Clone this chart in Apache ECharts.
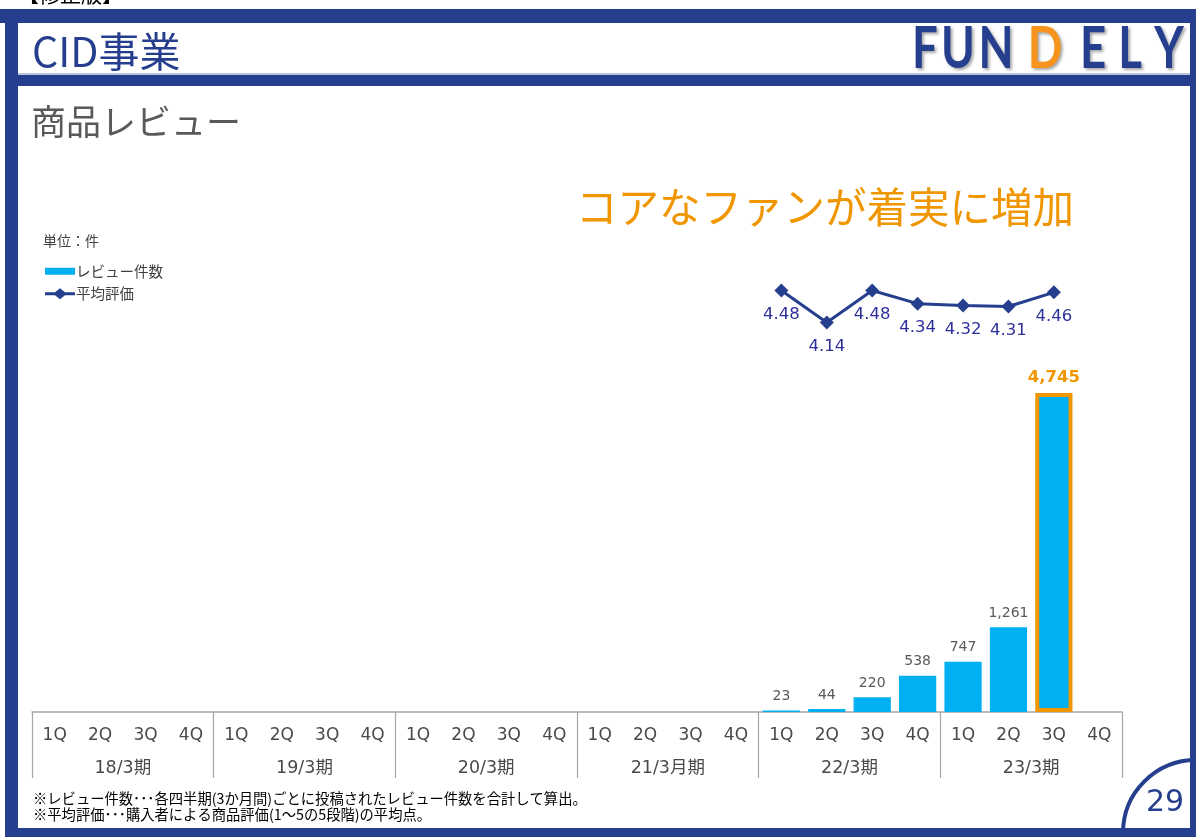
<!DOCTYPE html>
<html>
<head>
<meta charset="utf-8">
<script src="https://cdn.jsdelivr.net/npm/echarts@6/dist/echarts.min.js"></script>
<style>
html,body{margin:0;padding:0;background:#fff;}
#chart{width:1196px;height:837px;}
</style>
</head>
<body>
<div id="chart"></div>
<script>
// ---- data ----
const fiscalYears = ['18/3期', '19/3期', '20/3期', '21/3月期', '22/3期', '23/3期'];
const quarters = ['1Q', '2Q', '3Q', '4Q'];
const reviewCounts = [null, null, null, null, null, null, null, null,
                      null, null, null, null, null, null, null, null,
                      23, 44, 220, 538, 747, 1261, 4745, null];
const avgRatings = [null, null, null, null, null, null, null, null,
                    null, null, null, null, null, null, null, null,
                    4.48, 4.14, 4.48, 4.34, 4.32, 4.31, 4.46, null];
const highlightIndex = 22;
const seriesNames = ['レビュー件数', '平均評価'];

// ---- styles ----
const NAVY = '#253F8E';
const ORANGE = '#F09600';
const CYAN = '#00B0F0';
const JP = '"Noto Sans CJK JP", "Noto Sans", sans-serif';
const NUM = '"DejaVu Sans", "Noto Sans CJK JP", sans-serif';

const categories = [];
fiscalYears.forEach(y => quarters.forEach(q => categories.push(y + ' ' + q)));

const barData = reviewCounts.map((v, i) => i === highlightIndex ? {
  value: v,
  itemStyle: { borderColor: ORANGE, borderWidth: 4 },
  label: { color: ORANGE, fontWeight: 'bold', fontSize: 16.5 }
} : v);

const fmt = v => Number(v).toLocaleString('en-US');

const barLegendIcon = 'path://M0,0 M0,2.5 L30,2.5 L30,9.5 L0,9.5 Z M30,12';
const lineLegendIcon = 'path://M0,4.6 L10,4.6 L15,0.5 L20,4.6 L30,4.6 L30,7.4 L20,7.4 L15,11.5 L10,7.4 L0,7.4 Z M0,0 M30,12';

const logoLetters = [
  ['F', 925, NAVY], ['U', 958, NAVY], ['N', 996, NAVY], ['D', 1045, '#F7941D'],
  ['E', 1093, NAVY], ['L', 1130, NAVY], ['Y', 1169, NAVY]
];

const chart = echarts.init(document.getElementById('chart'));
const option = {
  backgroundColor: '#fff',
  animation: false,
  textStyle: { fontFamily: JP },
  legend: {
    data: [{ name: seriesNames[0], icon: barLegendIcon }, { name: seriesNames[1], icon: lineLegendIcon }],
    orient: 'vertical',
    left: 45, top: 264, padding: 0,
    itemWidth: 30, itemHeight: 12, itemGap: 8,
    textStyle: { fontSize: 14.5, color: '#404040', fontFamily: JP, padding: [0, 0, 0, -4] }
  },
  grid: { left: 32, right: 74, top: 180, bottom: 125 },
  xAxis: [{
    type: 'category',
    data: categories,
    position: 'bottom',
    axisLine: { show: true, lineStyle: { color: '#A6A6A6', width: 1.5 } },
    axisTick: { show: false },
    axisLabel: {
      interval: 0, margin: 15, fontSize: 17, color: '#4A4A4A',
      fontFamily: NUM,
      formatter: v => v.split(' ')[1]
    },
    splitLine: { show: false }
  }, {
    type: 'category',
    data: fiscalYears,
    position: 'bottom',
    axisLine: { show: false },
    axisTick: { show: true, length: 66, interval: 0, lineStyle: { color: '#A6A6A6', width: 1.2 } },
    axisLabel: { interval: 0, margin: 48, fontSize: 17.5, color: '#4A4A4A', fontFamily: NUM },
    splitLine: { show: false }
  }],
  yAxis: [{
    type: 'value', min: 0, max: 7913, show: false, splitLine: { show: false }
  }, {
    type: 'value', min: 0, max: 5.654, show: false, splitLine: { show: false }
  }],
  series: [{
    name: seriesNames[0],
    type: 'bar',
    data: barData,
    barCategoryGap: '18%',
    itemStyle: { color: CYAN },
    label: {
      show: true, position: 'top', distance: 7,
      fontSize: 14, color: '#595959', fontFamily: NUM,
      formatter: p => fmt(p.value)
    },
    z: 2
  }, {
    name: seriesNames[1],
    type: 'line',
    yAxisIndex: 1,
    data: avgRatings,
    symbol: 'diamond',
    symbolSize: 14,
    itemStyle: { color: NAVY },
    lineStyle: { color: NAVY, width: 3 },
    label: {
      show: true, position: 'bottom', distance: 9,
      fontSize: 16.5, color: '#2E309A', fontFamily: NUM,
      formatter: p => p.value.toFixed(2)
    },
    z: 5
  }],
  graphic: [
    // page number circle
    { type: 'circle', shape: { cx: 1196, cy: 833, r: 73 }, style: { fill: '#fff', stroke: NAVY, lineWidth: 4 }, z: 1 },
    { type: 'text', x: 1165, y: 803, style: { text: '29', fill: NAVY, fontSize: 30, fontFamily: NUM, align: 'center', verticalAlign: 'middle' }, z: 2 },
    // frame
    { type: 'text', x: 18, y: -16, style: { text: '【修正版】', fill: '#000', fontSize: 21, fontFamily: JP }, z: 3 },
    { type: 'rect', shape: { x: 0, y: 9, width: 1196, height: 14 }, style: { fill: NAVY }, z: 4 },
    { type: 'rect', shape: { x: 5, y: 9, width: 13, height: 828 }, style: { fill: NAVY }, z: 4 },
    { type: 'rect', shape: { x: 1190, y: 9, width: 6, height: 828 }, style: { fill: NAVY }, z: 4 },
    { type: 'rect', shape: { x: 5, y: 828, width: 1191, height: 9 }, style: { fill: NAVY }, z: 4 },
    { type: 'rect', shape: { x: 18, y: 73, width: 1172, height: 2 }, style: { fill: '#B8C3DE' }, z: 4 },
    { type: 'rect', shape: { x: 18, y: 75, width: 1172, height: 11 }, style: { fill: NAVY }, z: 4 },
    // header text
    { type: 'text', x: 32, y: 51, style: { text: 'CID事業', fill: NAVY, fontSize: 41, fontFamily: JP, verticalAlign: 'middle' }, z: 4 },
    ...logoLetters.map(([ch, cx, col]) => ({
      type: 'text', x: cx, y: 50, scaleX: 0.8,
      style: {
        text: ch, fill: col, fontSize: 57, fontWeight: 'bold', fontFamily: 'Lato, "DejaVu Sans", sans-serif',
        align: 'center', verticalAlign: 'middle',
        textShadowColor: 'rgba(0,0,0,0.35)', textShadowBlur: 3, textShadowOffsetX: 2, textShadowOffsetY: 2
      }, z: 4
    })),
    { type: 'text', x: 31, y: 122, style: { text: '商品レビュー', fill: '#595959', fontSize: 35, fontFamily: JP, verticalAlign: 'middle' }, z: 4 },
    { type: 'text', x: 576, y: 207, style: { text: 'コアなファンが着実に増加', fill: ORANGE, fontSize: 41.5, fontFamily: JP, verticalAlign: 'middle' }, z: 4 },
    { type: 'text', x: 43, y: 241, style: { text: '単位：件', fill: '#404040', fontSize: 14, fontFamily: JP, verticalAlign: 'middle' }, z: 4 },
    { type: 'text', x: 33, y: 799, style: { text: '※レビュー件数･･･各四半期(3か月間)ごとに投稿されたレビュー件数を合計して算出。', fill: '#000', fontSize: 14.3, fontFamily: JP, verticalAlign: 'middle' }, z: 4 },
    { type: 'text', x: 33, y: 815, style: { text: '※平均評価･･･購入者による商品評価(1～5の5段階)の平均点。', fill: '#000', fontSize: 14.3, fontFamily: JP, verticalAlign: 'middle' }, z: 4 }
  ]
};
chart.setOption(option);
</script>
</body>
</html>
